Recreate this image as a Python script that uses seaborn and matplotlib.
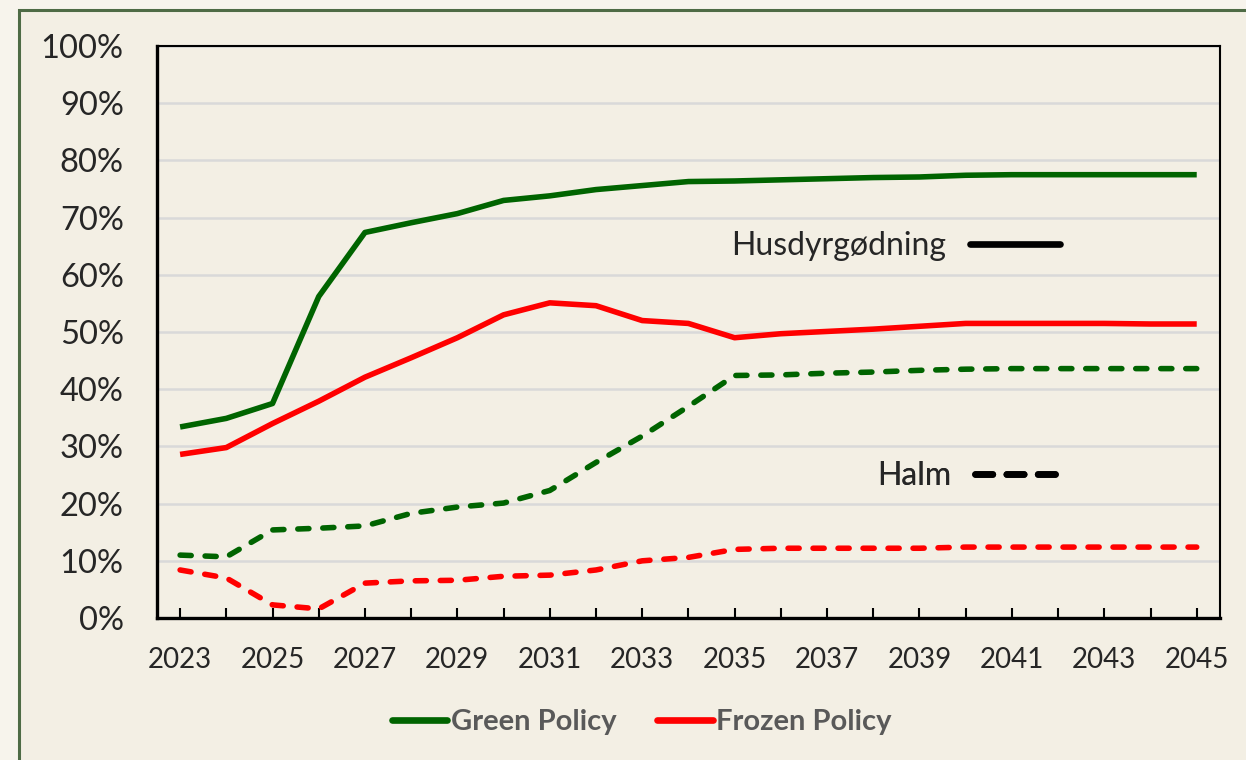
import numpy as np
import pandas as pd
import matplotlib
matplotlib.use("Agg")
import matplotlib.pyplot as plt
from matplotlib.lines import Line2D
from matplotlib.patches import Rectangle
import seaborn as sns

# --- data (andel, %) ---
years = list(range(2023, 2046))
green_husdyr = [33.4, 34.9, 37.5, 56.2, 67.4, 69.1, 70.7, 73.0, 73.8, 74.9, 75.6, 76.3,
                76.4, 76.6, 76.8, 77.0, 77.1, 77.4, 77.5, 77.5, 77.5, 77.5, 77.5]
frozen_husdyr = [28.6, 29.8, 34.0, 37.9, 42.1, 45.5, 49.0, 53.0, 55.1, 54.6, 52.0, 51.5,
                 49.0, 49.7, 50.1, 50.5, 51.0, 51.5, 51.5, 51.5, 51.5, 51.4, 51.4]
green_halm = [11.0, 10.7, 15.4, 15.7, 16.1, 18.3, 19.4, 20.1, 22.3, 27.2, 31.8, 37.0,
              42.4, 42.5, 42.8, 43.0, 43.3, 43.5, 43.6, 43.6, 43.6, 43.6, 43.6]
frozen_halm = [8.4, 7.0, 2.3, 1.6, 6.1, 6.5, 6.6, 7.3, 7.5, 8.4, 10.0, 10.6,
               12.0, 12.2, 12.2, 12.2, 12.2, 12.4, 12.4, 12.4, 12.4, 12.4, 12.4]

policies = ["Green Policy", "Frozen Policy"]
types = ["Husdyrgødning", "Halm"]
y_ticks = list(range(0, 101, 10))
x_labels = list(range(2023, 2046, 2))

rows = []
for pol, typ, vals in [("Green Policy", "Husdyrgødning", green_husdyr),
                       ("Frozen Policy", "Husdyrgødning", frozen_husdyr),
                       ("Green Policy", "Halm", green_halm),
                       ("Frozen Policy", "Halm", frozen_halm)]:
    for yr, v in zip(years, vals):
        rows.append({"year": yr, "value": v, "policy": pol, "type": typ})
df = pd.DataFrame(rows)

GREEN = "#006400"
RED = "#FF0000"
BG = "#F3EFE4"

sns.set_style("white")
plt.rcParams["font.family"] = ["Lato", "DejaVu Sans"]

fig = plt.figure(figsize=(12.46, 7.6), dpi=100)
fig.patch.set_facecolor("#F7F4EC")
# panel frame
fig.patches.append(Rectangle((0.0152, -0.05), 1.2, 1.037, transform=fig.transFigure,
                             facecolor=BG, edgecolor="#4E6B45", linewidth=2.2, zorder=-10))

ax = fig.add_axes([0.126, 0.1868, 0.853, 0.7527])
ax.set_facecolor(BG)

sns.lineplot(data=df, x="year", y="value", hue="policy", style="type",
             hue_order=policies, style_order=types,
             palette={"Green Policy": GREEN, "Frozen Policy": RED},
             dashes={"Husdyrgødning": "", "Halm": (2.0, 2.5)},
             linewidth=4.0, legend=False, ax=ax)
for ln in ax.get_lines():
    ln.set_dash_capstyle("round")
    ln.set_solid_capstyle("butt")

ax.set_xlim(2022.5, 2045.5)
ax.set_ylim(0, 100)
ax.set_yticks(y_ticks)
ax.set_yticklabels([f"{v}%" for v in y_ticks])
ax.set_xticks(x_labels)
ax.set_xticklabels([str(v) for v in x_labels])
ax.set_xticks(years, minor=True)
ax.tick_params(axis="x", which="both", direction="in", length=7, width=1.5,
               color="black", bottom=True, pad=21, labelsize=20)
ax.tick_params(axis="y", length=0, pad=24, labelsize=23.5)
ax.set_xlabel("")
ax.set_ylabel("")
ax.grid(axis="y", color="#D9D9D9", linewidth=1.8)
ax.set_axisbelow(True)
for sp in ax.spines.values():
    sp.set_visible(True)
    sp.set_color("black")
    sp.set_linewidth(1.5)
ax.spines["bottom"].set_linewidth(2.4)
ax.spines["left"].set_linewidth(2.4)

# line style key (inside the plot)
leg1 = ax.legend(handles=[Line2D([], [], color="black", lw=4.8, solid_capstyle="round")],
                 labels=["Husdyrgødning"], loc="center", bbox_to_anchor=(0.695, 0.650),
                 frameon=False, markerfirst=False, handlelength=2.8, handletextpad=0.75,
                 fontsize=23)
ax.add_artist(leg1)
leg2 = ax.legend(handles=[Line2D([], [], color="black", lw=4.8, dashes=(2.6, 2.1),
                                 dash_capstyle="round")],
                 labels=["Halm"], loc="center", bbox_to_anchor=(0.761, 0.248),
                 frameon=False, markerfirst=False, handlelength=2.5, handletextpad=0.75,
                 fontsize=23)
ax.add_artist(leg2)

# policy legend at the bottom
handles = [Line2D([], [], color=GREEN, lw=4.8), Line2D([], [], color=RED, lw=4.8)]
leg = fig.legend(handles=handles, labels=policies, loc="center", ncol=2,
                 bbox_to_anchor=(0.515, 0.05), frameon=False, handlelength=1.9,
                 handletextpad=0.12, columnspacing=1.4,
                 prop={"size": 21, "weight": "bold"})
for t in leg.get_texts():
    t.set_color("#595959")

fig.savefig("out.png", dpi=100, facecolor=fig.get_facecolor())
